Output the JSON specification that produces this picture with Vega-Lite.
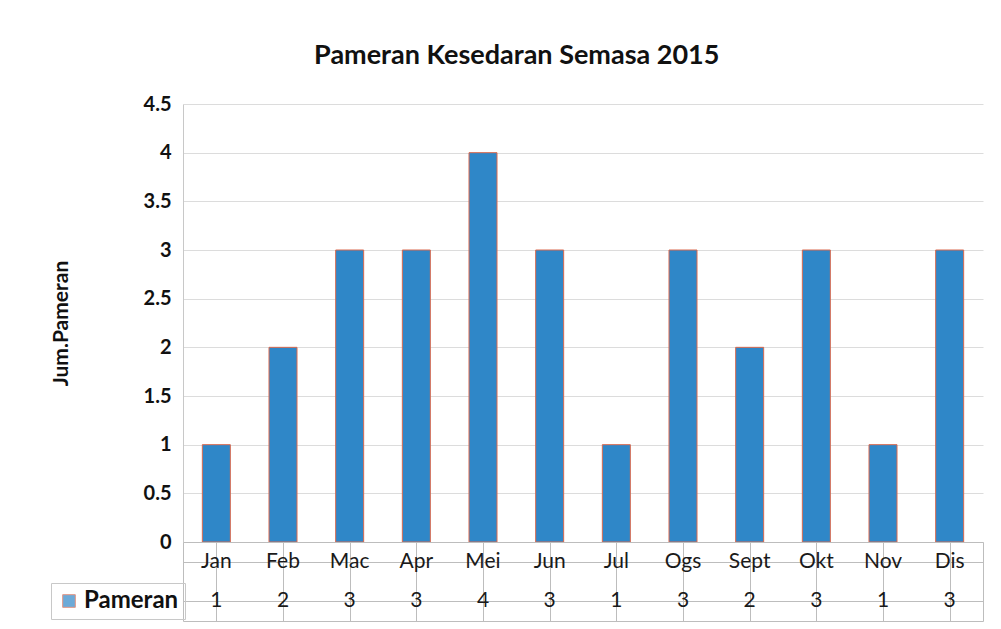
{
  "$schema": "https://vega.github.io/schema/vega-lite/v6.json",
  "background": "white",
  "padding": {"left": 50, "top": 42, "right": 10, "bottom": 5},
  "bounds": "flush",
  "config": {
    "font": "Lato",
    "view": {"stroke": null},
    "concat": {"spacing": 0}
  },
  "title": {
    "text": "Pameran Kesedaran Semasa 2015",
    "fontSize": 27,
    "fontWeight": "bold",
    "font": "Lato",
    "color": "#111111",
    "offset": 24,
    "anchor": "middle"
  },
  "data": {
    "values": [
      {"month": "Jan", "Pameran": 1},
      {"month": "Feb", "Pameran": 2},
      {"month": "Mac", "Pameran": 3},
      {"month": "Apr", "Pameran": 3},
      {"month": "Mei", "Pameran": 4},
      {"month": "Jun", "Pameran": 3},
      {"month": "Jul", "Pameran": 1},
      {"month": "Ogs", "Pameran": 3},
      {"month": "Sept", "Pameran": 2},
      {"month": "Okt", "Pameran": 3},
      {"month": "Nov", "Pameran": 1},
      {"month": "Dis", "Pameran": 3}
    ]
  },
  "resolve": {"legend": {"color": "independent"}, "scale": {"color": "independent"}},
  "vconcat": [
    {
      "width": 800,
      "height": 438,
      "mark": {"type": "bar", "color": "#2f87c8", "stroke": "#d9694f", "strokeWidth": 1},
      "encoding": {
        "x": {
          "field": "month",
          "type": "nominal",
          "sort": ["Jan","Feb","Mac","Apr","Mei","Jun","Jul","Ogs","Sept","Okt","Nov","Dis"],
          "scale": {"paddingInner": 0.58, "paddingOuter": 0.29},
          "axis": null
        },
        "y": {
          "field": "Pameran",
          "type": "quantitative",
          "scale": {"domain": [0, 4.5]},
          "axis": {
            "values": [0,0.5,1,1.5,2,2.5,3,3.5,4,4.5],
            "format": ".1~f",
            "title": "Jum.Pameran",
            "titleFontSize": 21,
            "titleFontWeight": "bold",
            "titleColor": "#111111",
            "titlePadding": 72,
            "labelFontSize": 20,
            "labelFontWeight": "bold",
            "labelColor": "#111111",
            "labelPadding": 12,
            "ticks": false,
            "domainColor": "#c8c8c8",
            "gridColor": "#dcdcdc"
          }
        }
      }
    },
    {
      "width": 800,
      "height": 79,
      "view": {"stroke": "#bdbdbd"},
      "transform": [{"fold": ["month", "Pameran"], "as": ["row", "val"]}],
      "encoding": {
        "x": {
          "field": "month",
          "type": "nominal",
          "sort": ["Jan","Feb","Mac","Apr","Mei","Jun","Jul","Ogs","Sept","Okt","Nov","Dis"],
          "axis": {"labels": false, "ticks": false, "domain": false, "title": null, "grid": true, "bandPosition": 0, "gridColor": "#bdbdbd"}
        },
        "y": {
          "field": "row",
          "type": "nominal",
          "sort": ["month", "Pameran"],
          "axis": {"labels": false, "ticks": false, "domain": false, "title": null, "grid": true, "bandPosition": 0, "gridColor": "#bdbdbd"}
        }
      },
      "layer": [
        {
          "mark": {"type": "text", "fontSize": 21, "font": "Lato", "color": "#1a1a1a"},
          "encoding": {
            "text": {"field": "val"},
            "fontWeight": {
              "field": "row",
              "type": "nominal",
              "scale": {"domain": ["month", "Pameran"], "range": [500, 700]},
              "legend": null
            }
          }
        },
        {
          "transform": [{"filter": "false"}],
          "mark": {"type": "square", "filled": true, "stroke": "#d9694f", "strokeWidth": 1},
          "encoding": {
            "color": {
              "datum": "Pameran",
              "scale": {"range": ["#2f87c8"]},
              "legend": {
                "orient": "none",
                "legendX": -132,
                "legendY": 41,
                "title": null,
                "symbolType": "square",
                "symbolSize": 160,
                "symbolStrokeColor": "#d9694f",
                "symbolStrokeWidth": 1,
                "labelFontSize": 24,
                "labelFontWeight": "bold",
                "labelFont": "Lato",
                "labelColor": "#111111",
                "labelOffset": 3,
                "strokeColor": "#c8c8c8",
                "padding": 6
              }
            }
          }
        }
      ]
    }
  ]
}
